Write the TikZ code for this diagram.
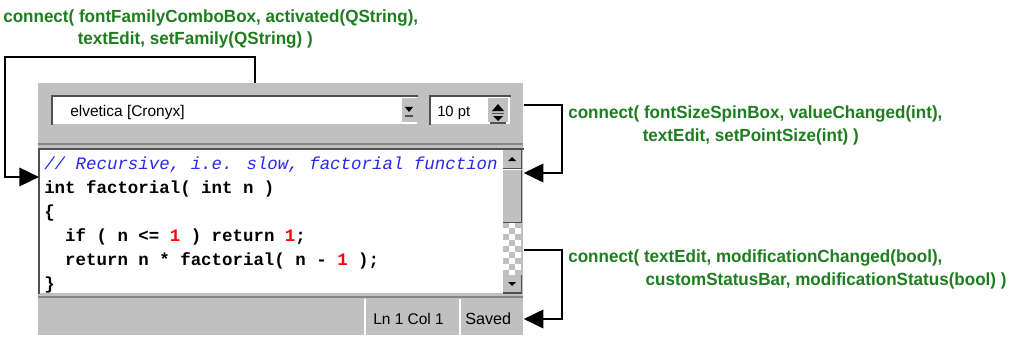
\documentclass[tikz,border=0pt]{standalone}
\usepackage{fontspec}
\setmainfont{Liberation Sans}
\newfontfamily\lblfont{Liberation Sans}[FakeStretch=0.97]
\newfontfamily\codefont{Liberation Mono}
\usetikzlibrary{arrows.meta,positioning}
\definecolor{qtgreen}{RGB}{30,125,30}
\definecolor{qtgrey}{RGB}{192,192,192}
\definecolor{qtdark}{RGB}{80,80,80}
\definecolor{qtblue}{RGB}{40,40,240}
\tikzstyle{panel} = [fill=qtgrey, draw=none, inner sep=0, anchor=north west]
\tikzstyle{field} = [fill=white, draw=none, inner sep=0, anchor=north west]
\tikzstyle{sunken} = [qtdark, line width=1.4pt]
\tikzstyle{raised} = [qtdark, line width=1.2pt]
\tikzstyle{widgettext} = [inner sep=0, anchor=base west, font=\fontsize{11}{13}\selectfont]
\tikzstyle{slotlabel} = [text=qtgreen, font=\lblfont\bfseries\fontsize{12.5}{16}\selectfont,
    align=left, inner sep=0, anchor=base west]
\tikzstyle{wire} = [line width=2pt, -{Triangle[length=14pt,width=13pt]}]

\begin{document}
\begin{tikzpicture}[x=0.025cm, y=-0.025cm]
\useasboundingbox (0,0) rectangle (1019,341);

% the window
\node[panel, minimum width=12.125cm, minimum height=6.3cm] (window) at (38,83) {};
\draw[qtgrey!70!black, line width=2pt] (38,144) -- (523,144);

% toolbar: font family and size
\node[field, minimum width=9.125cm, minimum height=0.7cm] (combo) at (52,96) {};
\draw[sunken] (combo.south west) -- (combo.north west) -- (combo.north east);
\node[panel, minimum width=0.4cm, minimum height=0.6cm] (drop) at (402,98) {};
\fill (405,107) -- (413,107) -- (409,112) -- cycle;
\draw[raised] (405,116) -- (413,116);
\node[widgettext] (family) at (70,117) {elvetica [Cronyx]};

\node[field, minimum width=2cm, minimum height=0.7cm] (spin) at (430,96) {};
\draw[sunken] (spin.south west) -- (spin.north west) -- (spin.north east);
\node[panel, minimum width=0.5cm, minimum height=0.6cm] (spinbtn) at (488,98) {};
\fill (492,111) -- (504,111) -- (498,104) -- cycle;
\draw[raised] (492,113.5) -- (504,113.5);
\fill (493,116) -- (503,116) -- (498,121) -- cycle;
\draw[raised] (490,123) -- (506,123);
\node[widgettext, font=\fontsize{10.5}{13}\selectfont] (size) at (437,117) {10 pt};

% text edit
\node[field, minimum width=11.6cm, minimum height=3.6cm] (textedit) at (39,149) {};
\draw[sunken] (textedit.south west) -- (textedit.north west) -- (window.east |- textedit.north);
\node[anchor=base west, inner sep=0, align=left,
    font=\codefont\fontsize{12.4}{17}\selectfont] (code) at (44,289) {%
    {\color{qtblue}\itshape // Recursive, i.e. slow, factorial function}\\
    \textbf{int factorial( int n )}\\
    \textbf{\{}\\
    \textbf{\ \ if ( n <= {\color{red}1} ) return {\color{red}1};}\\
    \textbf{\ \ return n * factorial( n - {\color{red}1} );}\\
    \textbf{\}}};

% scroll bar
\node[field, minimum width=0.45cm, minimum height=3.55cm] (scroll) at (503,150) {};
\foreach \r in {0,...,8}
  \foreach \c in {0,1,2} {
    \pgfmathtruncatemacro\odd{mod(\r+\c,2)}
    \ifnum\odd=0 \fill[qtgrey] ({503+6*\c},{222+6*\r}) rectangle ++(6,6); \fi
  }
\node[panel, minimum width=0.45cm, minimum height=0.45cm] (upbtn) at (503,150) {};
\draw[raised] (upbtn.north east) -- (upbtn.south east) -- (upbtn.south west);
\fill (508,161) -- (516,161) -- (512,157) -- cycle;
\node[panel, minimum width=0.45cm, minimum height=1.3cm] (slider) at (503,170) {};
\draw[raised] (slider.north east) -- (slider.south east) -- (slider.south west);
\node[panel, minimum width=0.45cm, minimum height=0.43cm] (downbtn) at (503,275) {};
\draw[raised] (downbtn.north east) -- (downbtn.south east) -- (downbtn.south west);
\fill (508,282) -- (516,282) -- (512,286) -- cycle;

% status bar
\draw[qtgrey!70!black, line width=2pt] (38,297) -- (523,297);
\draw[white, line width=1pt] (365,299) -- (365,335);
\draw[white, line width=1pt] (460,299) -- (460,335);
\node[widgettext] (pos) at (373,324) {Ln 1 Col 1};
\node[widgettext, font=\fontsize{11.5}{13}\selectfont] (saved) at (465,324) {Saved};

% the three connections
\node[slotlabel] (famslot) at (3,45)
    {connect( fontFamilyComboBox, activated(QString),\\\hspace*{53pt}textEdit, setFamily(QString) )};
\node[slotlabel] (sizeslot) at (568,141)
    {connect( fontSizeSpinBox, valueChanged(int),\\\hspace*{53pt}textEdit, setPointSize(int) )};
\node[slotlabel] (modslot) at (568,285)
    {connect( textEdit, modificationChanged(bool),\\\hspace*{55pt}customStatusBar, modificationStatus(bool) )};

\coordinate (famtap) at (255,83);
\draw[wire] (famtap) |- (5,57) |- (textedit.west |- 0,177);
\draw[wire] (window.east |- 0,105) -- (562,105) |- (window.east |- 0,173);
\draw[wire] (window.east |- 0,250) -- (562,250) |- (window.east |- 0,319);
\end{tikzpicture}
\end{document}
